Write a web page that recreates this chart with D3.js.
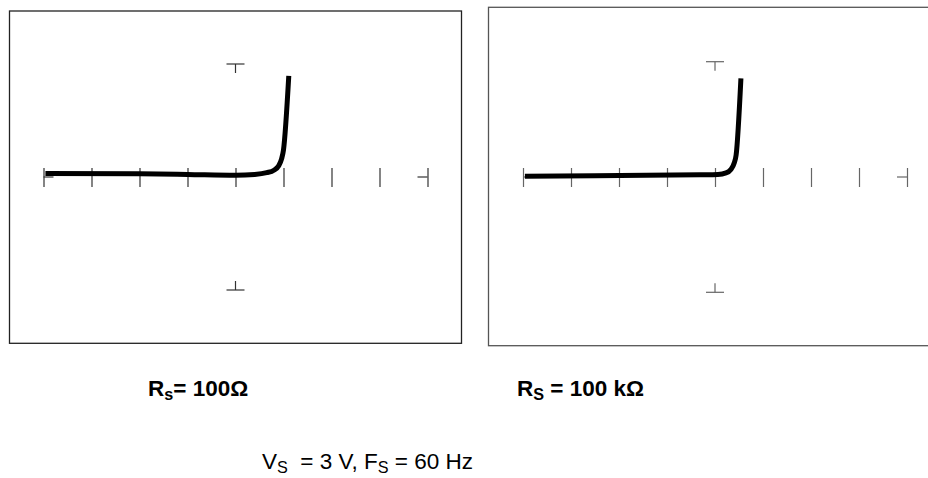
<!DOCTYPE html>
<html>
<head>
<meta charset="utf-8">
<script src="https://cdn.jsdelivr.net/npm/d3@7"></script>
<style>
  html, body { margin: 0; padding: 0; background: #fff; }
  svg { display: block; }
  text { font-family: "Liberation Sans", Arial, Helvetica, sans-serif; white-space: pre; }
</style>
</head>
<body>
<svg id="chart" width="928" height="478"></svg>
<script>
// ---- data (horizontal in divisions, vertical in marker units) ----
const xTicks = [-4, -3, -2, -1, 0, 1, 2, 3, 4];
const yMarkers = [-1, 1];

const leftTraceX = [-3.96, -2.0, -1.0, 0.0, 0.4, 0.65, 0.8, 0.9, 0.96, 1.0, 1.11];
const leftTraceY = [0.032, 0.028, 0.022, 0.015, 0.022, 0.038, 0.06, 0.1, 0.16, 0.24, 0.894];

const rightTraceX = [-3.96, -1.98, -0.31, 0.06, 0.23, 0.33, 0.40, 0.44, 0.54];
const rightTraceY = [0.006, 0.013, 0.019, 0.022, 0.035, 0.065, 0.121, 0.191, 0.856];

const leftLabel = ["R", "s", "= 100Ω"];
const rightLabel = ["R", "S", " = 100 kΩ"];
const footerParts = [["V", false], ["S", true], ["  = 3 V, F", false], ["S", true], [" = 60 Hz", false]];

// ---- drawing ----
const svg = d3.select("#chart");

function drawPanel(cfg, xs, ys) {
  const g = svg.append("g");
  g.append("rect")
    .attr("x", cfg.frame[0]).attr("y", cfg.frame[1])
    .attr("width", cfg.frame[2]).attr("height", cfg.frame[3])
    .attr("fill", "none").attr("stroke", cfg.frameColor).attr("stroke-width", 1.3);

  const x = d3.scaleLinear().domain([-4, 4]).range(cfg.xRange);
  const y = d3.scaleLinear().domain([-1, 1]).range(cfg.yRange);
  const y0 = y(0);

  const axis = d3.axisBottom(x).tickValues(xTicks).tickSize(19).tickFormat("");
  const ag = g.append("g").attr("transform", `translate(0,${y0 - 9})`).call(axis);
  ag.select(".domain").remove();
  ag.selectAll(".tick line").attr("stroke", cfg.tickColor).attr("stroke-width", 1.2);

  g.append("line").attr("x1", x(-4)).attr("x2", x(-4) + 10).attr("y1", y0).attr("y2", y0)
    .attr("stroke", cfg.tickColor).attr("stroke-width", 1.2);
  g.append("line").attr("x1", x(4) - 10).attr("x2", x(4)).attr("y1", y0).attr("y2", y0)
    .attr("stroke", cfg.tickColor).attr("stroke-width", 1.2);

  yMarkers.forEach(m => {
    const ym = y(m);
    const dir = m > 0 ? 1 : -1;
    g.append("line").attr("x1", x(0) - 9).attr("x2", x(0) + 9).attr("y1", ym).attr("y2", ym)
      .attr("stroke", cfg.tickColor).attr("stroke-width", 1.2);
    g.append("line").attr("x1", x(0)).attr("x2", x(0)).attr("y1", ym).attr("y2", ym + dir * 9)
      .attr("stroke", cfg.tickColor).attr("stroke-width", 1.2);
  });

  const pts = xs.map((v, i) => [v, ys[i]]);
  const line = d3.line().x(d => x(d[0])).y(d => y(d[1])).curve(d3.curveMonotoneX);
  g.append("path").attr("d", line(pts))
    .attr("fill", "none").attr("stroke", "#000").attr("stroke-width", 5)
    .attr("stroke-linejoin", "round").attr("stroke-linecap", "butt");
}

drawPanel({ frame: [9.5, 11, 452, 332.3], frameColor: "#222", tickColor: "#333",
            xRange: [43.5, 427.5], yRange: [290, 64] }, leftTraceX, leftTraceY);
drawPanel({ frame: [488.5, 7.3, 470, 338.4], frameColor: "#555", tickColor: "#666",
            xRange: [523, 907], yRange: [292.3, 61.7] }, rightTraceX, rightTraceY);

function label(parts, x, y, bold, size) {
  const t = svg.append("text").attr("x", x).attr("y", y)
    .attr("font-size", size).attr("font-weight", bold ? "bold" : "normal").attr("fill", "#000");
  parts.forEach(([s, sub], i) => {
    const ts = t.append("tspan").text(s);
    if (sub) ts.attr("font-size", size * 0.72).attr("dy", 4);
    else if (i > 0 && parts[i - 1][1]) ts.attr("dy", -4);
  });
  return t;
}

label([[leftLabel[0], false], [leftLabel[1], true], [leftLabel[2], false]], 148, 396, true, 22.5);
label([[rightLabel[0], false], [rightLabel[1], true], [rightLabel[2], false]], 517, 396, true, 22.5);
label(footerParts, 262, 469, false, 22.5);
</script>
</body>
</html>
